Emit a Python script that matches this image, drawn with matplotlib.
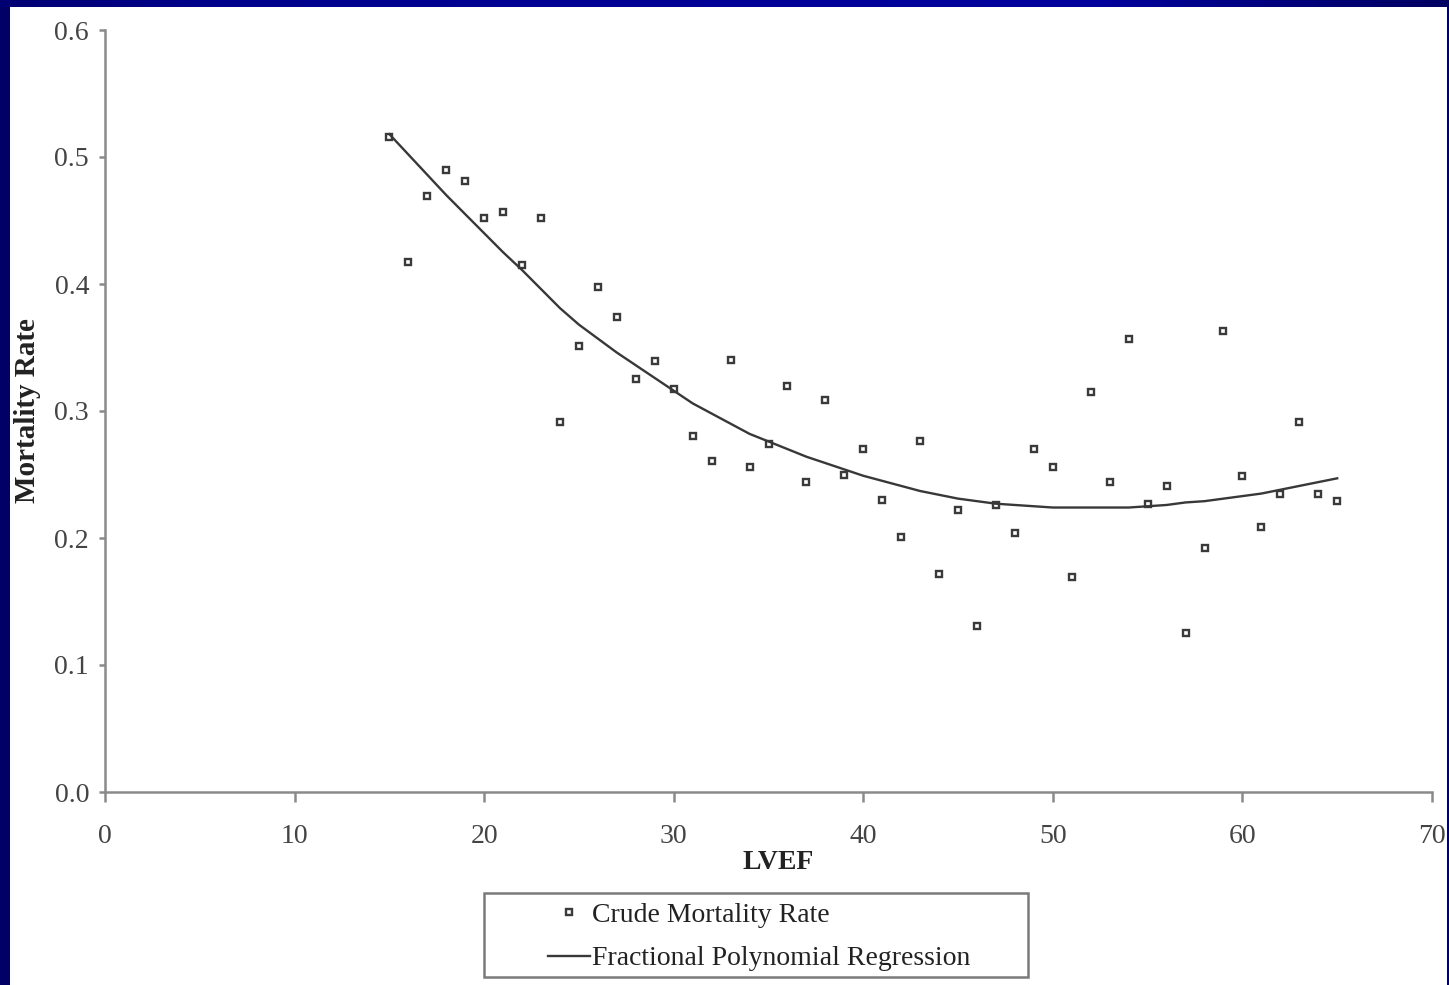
import numpy as np
import matplotlib
matplotlib.use("Agg")
import matplotlib.pyplot as plt
from matplotlib.patches import Rectangle

# crude mortality rate per LVEF value
lvef = list(range(15, 66))
crude_rate = [0.516, 0.417, 0.469, 0.490, 0.481, 0.452, 0.457, 0.415, 0.452, 0.291,
              0.351, 0.398, 0.374, 0.325, 0.339, 0.317, 0.280, 0.261, 0.340, 0.256,
              0.274, 0.320, 0.244, 0.309, 0.250, 0.270, 0.230, 0.201, 0.276, 0.172,
              0.222, 0.131, 0.226, 0.204, 0.270, 0.256, 0.169, 0.315, 0.244, 0.357,
              0.227, 0.241, 0.125, 0.192, 0.363, 0.249, 0.209, 0.235, 0.291, 0.235,
              0.229]

# fractional polynomial fit, read at each LVEF value
fp_fit = [0.518, 0.502, 0.486, 0.470, 0.455, 0.440, 0.425, 0.411, 0.396, 0.381,
          0.368, 0.357, 0.346, 0.336, 0.326, 0.316, 0.306, 0.298, 0.290, 0.282,
          0.276, 0.270, 0.264, 0.259, 0.254, 0.249, 0.245, 0.241, 0.237, 0.234,
          0.231, 0.229, 0.227, 0.226, 0.225, 0.224, 0.224, 0.224, 0.224, 0.224,
          0.225, 0.226, 0.228, 0.229, 0.231, 0.233, 0.235, 0.238, 0.241, 0.244,
          0.247]

x_ticks = [0, 10, 20, 30, 40, 50, 60, 70]
y_ticks = [0.0, 0.1, 0.2, 0.3, 0.4, 0.5, 0.6]

W, H = 1449, 985
plt.rcParams['font.family'] = ['Liberation Serif', 'DejaVu Serif']

fig = plt.figure(figsize=(W / 100, H / 100), dpi=100, facecolor='#000066')

# slide background: white page with a blue strip on top
fig.add_artist(Rectangle((10 / W, 0), 1437 / W, 978 / H, transform=fig.transFigure,
                         facecolor='white', edgecolor='none', zorder=0))
t = np.linspace(0, 1, W)
r = np.zeros(W)
b = np.interp(t, [0, 0.15, 0.75, 1], [0.45, 0.55, 0.62, 0.38])
strip = np.tile(np.stack([r, r, b], axis=1)[None, :, :], (7, 1, 1))
fig.figimage(strip, xo=0, yo=978)

ax = fig.add_axes([105 / W, 1 - 792 / H, 1327 / W, 762 / H])
ax.set_facecolor('none')

ax.plot(lvef, crude_rate, linestyle='none', marker='s', markersize=5,
        markerfacecolor='white', markeredgecolor='#3a3a3a', markeredgewidth=1.7,
        label='Crude Mortality Rate')
ax.plot(lvef, fp_fit, color='#383838', linewidth=1.7,
        label='Fractional Polynomial Regression')

ax.set_xlim(0, 70)
ax.set_ylim(0, 0.6)
ax.set_xticks(x_ticks)
ax.set_yticks(y_ticks)
ax.set_xticklabels([str(v) for v in x_ticks])
ax.set_yticklabels([f'{v:.1f}' for v in y_ticks])

for side in ['top', 'right']:
    ax.spines[side].set_visible(False)
for side in ['left', 'bottom']:
    ax.spines[side].set_color('#8a8a8a')
    ax.spines[side].set_linewidth(1.8)

ax.tick_params(axis='both', colors='#8a8a8a', labelcolor='#444444',
               labelsize=20, width=1.8)
ax.tick_params(axis='x', length=7, pad=16)
ax.tick_params(axis='y', length=4.5, pad=7)

ax.set_xlabel('LVEF', fontsize=20, fontweight='bold', color='#222222')
ax.xaxis.set_label_coords(0.507, -0.076)
ax.set_ylabel('Mortality Rate', fontsize=21, fontweight='bold', color='#222222')
ax.yaxis.set_label_coords(-0.048, 0.5)

# legend frame drawn by hand, legend entries placed inside it
fig.add_artist(Rectangle((484 / W, 1 - 977 / H), 544 / W, 84 / H,
                         transform=fig.transFigure, facecolor='none',
                         edgecolor='#7a7a7a', linewidth=1.8))
ax.legend(loc='center left', bbox_to_anchor=(548 / W, 1 - 937 / H),
          bbox_transform=fig.transFigure, frameon=False, fontsize=20,
          handlelength=1.5, handletextpad=0.1, borderpad=0, borderaxespad=0,
          labelspacing=0.65, labelcolor='#222222')

fig.savefig('out.png', dpi=100, facecolor=fig.get_facecolor())
